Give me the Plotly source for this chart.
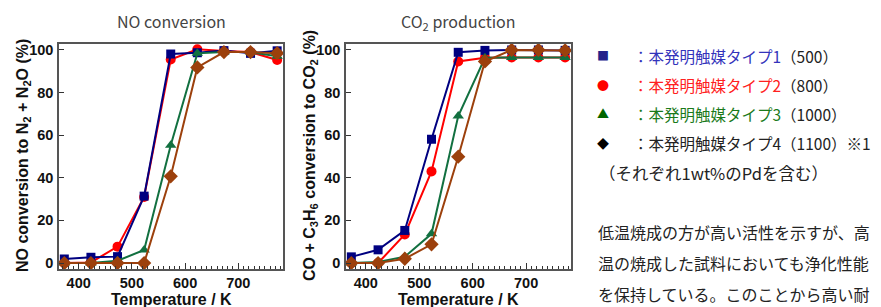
import plotly.graph_objects as go

temps = [373, 423, 473, 523, 573, 623, 673, 723, 773]

series_names = ["本発明触媒タイプ1（500）", "本発明触媒タイプ2（800）",
                "本発明触媒タイプ3（1000）", "本発明触媒タイプ4（1100）"]

no_type1 = [1.9, 2.7, 3.0, 31.4, 98.1, 98.7, 99.7, 98.4, 99.6]
no_type2 = [0.0, 0.3, 7.7, 31.0, 95.5, 100.3, 99.5, 99.0, 95.3]
no_type3 = [0.0, 0.0, 1.1, 6.1, 55.3, 98.4, 99.0, 99.0, 97.0]
no_type4 = [0.0, 0.0, 0.0, 0.0, 40.7, 91.8, 99.0, 99.0, 98.5]

co2_type1 = [2.9, 6.2, 15.3, 58.1, 98.9, 99.8, 100.0, 100.0, 99.8]
co2_type2 = [0.0, 0.0, 13.4, 43.0, 94.6, 96.4, 96.5, 96.5, 96.5]
co2_type3 = [0.0, 0.5, 3.0, 13.7, 69.0, 96.3, 96.5, 96.5, 96.5]
co2_type4 = [0.0, 0.0, 2.0, 8.8, 49.9, 94.6, 100.0, 100.0, 99.8]

x_ticks = [400, 500, 600, 700]
y_ticks = [0, 20, 40, 60, 80, 100]

colors = ["#000080", "#ff0000", "#127040", "#9c400c"]
symbols = ["square", "circle", "triangle-up", "diamond"]
msizes = [9, 10, 10, 11]

W, H = 881, 307
def px(x):
    return x / W
def py(y):
    return 1 - y / H

fig = go.Figure()
order = [1, 0, 2, 3]
no_data = [no_type1, no_type2, no_type3, no_type4]
co2_data = [co2_type1, co2_type2, co2_type3, co2_type4]
for xa, ya, data in [("x", "y", no_data), ("x2", "y2", co2_data)]:
    for i in order:
        fig.add_trace(go.Scatter(
            x=temps, y=data[i], xaxis=xa, yaxis=ya, mode="lines+markers",
            name=series_names[i], showlegend=False,
            line=dict(color=colors[i], width=2),
            marker=dict(symbol=symbols[i], size=msizes[i], color=colors[i]),
            cliponaxis=False))

axis_font = dict(family="Liberation Sans, Arial", size=14.5, color="#111", weight="bold")
title_font = dict(family="Liberation Sans, Arial", size=16, color="#111", weight="bold")

def xaxis_cfg(domain):
    return dict(domain=domain, range=[363, 784], tickvals=x_ticks,
                ticks="inside", ticklen=6, tickwidth=1, tickcolor="#333",
                minor=dict(dtick=10, tick0=0, ticks="inside", ticklen=3, tickwidth=1, tickcolor="#333"),
                showline=True, linecolor="#555", linewidth=1.5, mirror=True,
                showgrid=False, zeroline=False, tickfont=axis_font,
                ticklabelstandoff=0, automargin=False)

def yaxis_cfg(domain, anchor):
    return dict(domain=domain, range=[-2.8, 102.8], tickvals=y_ticks, anchor=anchor,
                ticks="inside", ticklen=5, tickwidth=1, tickcolor="#333",
                showline=True, linecolor="#555", linewidth=1.5, mirror=True,
                showgrid=False, zeroline=False, tickfont=axis_font,
                ticklabelstandoff=1, automargin=False)

ydom = [py(269), py(44)]
fig.update_layout(
    width=W, height=H, margin=dict(l=0, r=0, t=0, b=0),
    paper_bgcolor="white", plot_bgcolor="white",
    xaxis=xaxis_cfg([px(59), px(283)]) | dict(anchor="y"),
    xaxis2=xaxis_cfg([px(346), px(571)]) | dict(anchor="y2"),
    yaxis=yaxis_cfg(ydom, "x"),
    yaxis2=yaxis_cfg(ydom, "x2"),
)

# axis titles
x_titles = [("Temperature / K", 171), ("Temperature / K", 458)]
for txt, cx in x_titles:
    fig.add_annotation(text=txt, x=px(cx), y=py(299), xref="paper", yref="paper",
                       showarrow=False, xanchor="center", yanchor="middle", font=title_font)
y_titles = [("NO conversion to N<sub>2</sub> + N<sub>2</sub>O (%)", 23),
            ("CO + C<sub>3</sub>H<sub>6</sub> conversion to CO<sub>2</sub> (%)", 310)]
for txt, cx in y_titles:
    fig.add_annotation(text=txt, x=px(cx), y=py(156), xref="paper", yref="paper",
                       showarrow=False, xanchor="center", yanchor="middle",
                       textangle=-90, font=title_font)

plot_titles = [("NO conversion", 171), ("CO<sub>2</sub> production", 458)]
for txt, cx in plot_titles:
    fig.add_annotation(text=txt, x=px(cx), y=py(21), xref="paper", yref="paper",
                       showarrow=False, xanchor="center", yanchor="middle",
                       font=dict(family="Noto Sans CJK JP", size=16, color="#444"))

legend_marks = ["■", "●", "▲", "◆"]
legend_mark_colors = ["#22228a", "#ff0000", "#006600", "#000000"]
legend_text_colors = ["#3333bb", "#ff2020", "#1a7a1a", "#222222"]
legend_suffix = ["（500）", "（800）", "（1000）", "（1100）※1"]
legend_main = ["本発明触媒タイプ1", "本発明触媒タイプ2", "本発明触媒タイプ3", "本発明触媒タイプ4"]
legend_y = [56, 85, 114, 143]
jp = "Noto Sans CJK JP"
for k in range(4):
    fig.add_annotation(text=legend_marks[k], x=px(603), y=py(legend_y[k]), xref="paper", yref="paper",
                       showarrow=False, xanchor="center", yanchor="middle",
                       font=dict(family=jp, size=12, color=legend_mark_colors[k]))
    fig.add_annotation(
        text=f"<span style='color:{legend_text_colors[k]}'>：{legend_main[k]}</span>"
             f"<span style='color:#222'>{legend_suffix[k]}</span>",
        x=px(631), y=py(legend_y[k]), xref="paper", yref="paper",
        showarrow=False, xanchor="left", yanchor="middle",
        font=dict(family=jp, size=15.5, color="#222"))

fig.add_annotation(text="（それぞれ1wt%のPdを含む）", x=px(597), y=py(173), xref="paper", yref="paper",
                   showarrow=False, xanchor="left", yanchor="middle",
                   font=dict(family=jp, size=16.5, color="#222"))

para_lines = ["低温焼成の方が高い活性を示すが、高",
              "温の焼成した試料においても浄化性能",
              "を保持している。このことから高い耐"]
para_y = [232, 263, 294]
for line, yy in zip(para_lines, para_y):
    fig.add_annotation(text=line, x=px(596), y=py(yy), xref="paper", yref="paper",
                       showarrow=False, xanchor="left", yanchor="middle",
                       font=dict(family=jp, size=16, color="#222"))

fig.write_html("out.html", config={"displayModeBar": False},
               post_script="document.body.style.margin='0';document.body.style.overflow='hidden';")
